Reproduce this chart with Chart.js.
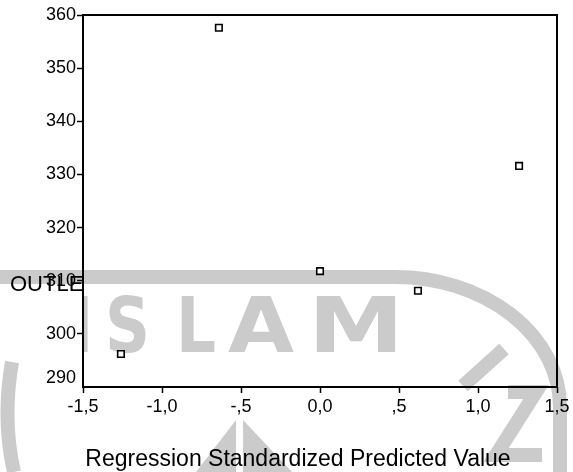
<!DOCTYPE html>
<html>
<head>
<meta charset="utf-8">
<script src="https://cdn.jsdelivr.net/npm/chart.js@4.4.1/dist/chart.umd.min.js"></script>
<style>
    html, body { margin: 0; padding: 0; background: #ffffff; }
    #wrap { width: 573px; height: 472px; }
</style>
</head>
<body>
<div id="wrap"><canvas id="scatter" width="573" height="472"></canvas></div>
<script>
// Regression standardized predicted value vs. OUTLET
const predictedValues = [-0.64, 1.26, 0.0, 0.62, -1.26];
const outletValues = [357.6, 331.6, 311.8, 308.1, 296.2];

const xTickValues = [-1.5, -1.0, -0.5, 0.0, 0.5, 1.0, 1.5];
const xTickLabels = ["-1,5", "-1,0", "-,5", "0,0", ",5", "1,0", "1,5"];
const yTickValues = [290, 300, 310, 320, 330, 340, 350, 360];

const xTitle = "Regression Standardized Predicted Value";
const yTitle = "OUTLET";
const watermarkLetters = ["I", "S", "L", "A", "M"];

const FONT = "'Liberation Sans', Arial, sans-serif";
const GREY = "#cbcbcb";

// draw one watermark letter squeezed into a given width
function drawLetter(ctx, ch, left, width, base) {
    const w = ctx.measureText(ch).width;
    ctx.save();
    ctx.translate(left, base);
    ctx.scale(width / w, 1);
    ctx.fillText(ch, 0, 0);
    ctx.restore();
}

const decorations = {
    id: "decorations",
    beforeDraw(chart) {
        const ctx = chart.ctx;
        ctx.save();
        ctx.fillStyle = "#ffffff";
        ctx.fillRect(0, 0, chart.width, chart.height);

        // faint logo behind the plot
        ctx.strokeStyle = GREY;
        ctx.fillStyle = GREY;
        ctx.lineWidth = 14;
        ctx.beginPath();
        ctx.moveTo(0, 277);
        ctx.lineTo(395, 277);
        ctx.ellipse(395, 407, 165, 130, 0, -Math.PI / 2, 0);
        ctx.lineTo(560, 472);
        ctx.stroke();

        ctx.beginPath();
        ctx.moveTo(504, 349);
        ctx.lineTo(463, 386);
        ctx.stroke();

        ctx.beginPath();
        ctx.moveTo(508, 392);
        ctx.lineTo(536, 392);
        ctx.lineTo(496, 455);
        ctx.lineTo(542, 455);
        ctx.stroke();

        ctx.beginPath();
        ctx.moveTo(12, 362);
        ctx.quadraticCurveTo(2, 420, 14, 472);
        ctx.stroke();

        ctx.beginPath();
        ctx.moveTo(236, 420);
        ctx.lineTo(236, 472);
        ctx.lineTo(196, 472);
        ctx.closePath();
        ctx.fill();
        ctx.beginPath();
        ctx.moveTo(243, 420);
        ctx.lineTo(292, 472);
        ctx.lineTo(243, 472);
        ctx.closePath();
        ctx.fill();

        ctx.font = "bold 76px 'DejaVu Sans', sans-serif";
        const spots = [[80, 10], [105, 45], [176, 40], [228, 66], [308, 96]];
        watermarkLetters.forEach((ch, i) => {
            drawLetter(ctx, ch, spots[i][0], spots[i][1], 352);
        });
        ctx.restore();
    },
    afterDraw(chart) {
        const ctx = chart.ctx;
        const area = chart.chartArea;
        const yScale = chart.scales.y;
        ctx.save();

        // closed frame round the plot
        ctx.strokeStyle = "#000000";
        ctx.lineWidth = 2;
        ctx.strokeRect(area.left, area.top, area.right - area.left, area.bottom - area.top);

        ctx.fillStyle = "#000000";

        // the bottom y label sits a little above its value
        ctx.font = "18px " + FONT;
        ctx.textAlign = "right";
        ctx.textBaseline = "middle";
        ctx.fillText(String(yTickValues[0]), area.left - 7, yScale.getPixelForValue(yTickValues[0]) - 9);

        // horizontal y title, cut off at the axis
        ctx.save();
        ctx.beginPath();
        ctx.rect(0, 0, area.left - 1, chart.height);
        ctx.clip();
        ctx.font = "22px " + FONT;
        ctx.textAlign = "left";
        ctx.textBaseline = "alphabetic";
        ctx.fillText(yTitle, 10, 291);
        ctx.restore();

        ctx.font = "23px " + FONT;
        ctx.textAlign = "center";
        ctx.textBaseline = "middle";
        ctx.fillText(xTitle, 298, 460);
        ctx.restore();
    }
};

new Chart(document.getElementById("scatter"), {
    type: "scatter",
    data: {
        datasets: [
            {
                label: yTitle,
                data: predictedValues.map((x, i) => ({ x: x, y: outletValues[i] })),
                pointStyle: "rect",
                pointRadius: 4.6,
                pointHoverRadius: 4.6,
                pointBorderWidth: 1.6,
                pointBorderColor: "#000000",
                pointBackgroundColor: "#ffffff",
            },
        ],
    },
    options: {
        responsive: false,
        animation: false,
        devicePixelRatio: 1,
        layout: { padding: { top: 15, right: 16, left: 0, bottom: 0 } },
        plugins: {
            legend: { display: false },
            tooltip: { enabled: false },
        },
        scales: {
            x: {
                type: "linear",
                min: -1.5,
                max: 1.5,
                afterBuildTicks: (scale) => {
                    scale.ticks = xTickValues.map((v) => ({ value: v }));
                },
                afterFit: (scale) => {
                    scale.height = 85;
                },
                border: { display: false },
                grid: {
                    drawOnChartArea: false,
                    drawTicks: true,
                    tickLength: 6,
                    tickWidth: 1.5,
                    tickColor: "#000000",
                },
                ticks: {
                    color: "#000000",
                    font: { family: FONT, size: 18 },
                    padding: 3,
                    maxRotation: 0,
                    autoSkip: false,
                    callback: (value) => xTickLabels[xTickValues.indexOf(value)],
                },
            },
            y: {
                type: "linear",
                min: 290,
                max: 360,
                afterBuildTicks: (scale) => {
                    scale.ticks = yTickValues.map((v) => ({ value: v }));
                },
                afterFit: (scale) => {
                    scale.width = 83;
                },
                border: { display: false },
                grid: {
                    drawOnChartArea: false,
                    drawTicks: true,
                    tickLength: 6,
                    tickWidth: 1.5,
                    tickColor: (ctx) => (ctx.tick && ctx.tick.value === yTickValues[0] ? "rgba(0,0,0,0)" : "#000000"),
                },
                ticks: {
                    color: "#000000",
                    font: { family: FONT, size: 18 },
                    padding: 1,
                    autoSkip: false,
                    callback: (value) => (value === yTickValues[0] ? "" : String(value)),
                },
            },
        },
    },
    plugins: [decorations],
});
</script>
</body>
</html>
